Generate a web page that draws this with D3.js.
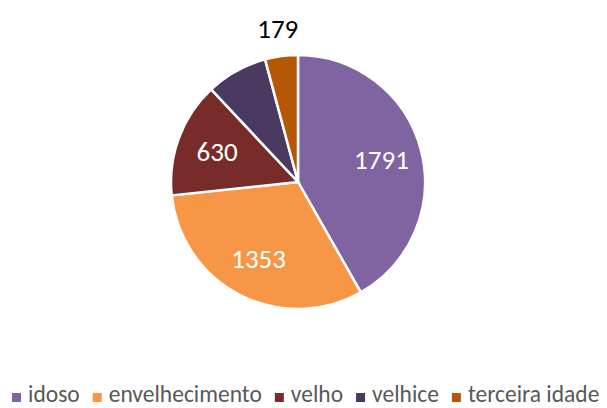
<!DOCTYPE html>
<html>
<head>
<meta charset="utf-8">
<script src="https://cdn.jsdelivr.net/npm/d3@7"></script>
<style>
  body { margin: 0; background: #fff; }
  text { font-family: Carlito, "Open Sans", "Noto Sans", sans-serif; }
</style>
</head>
<body>
<svg id="chart" width="607" height="408"></svg>
<script>
var categories = ["idoso", "envelhecimento", "velho", "velhice", "terceira idade"];
var values = [1791, 1353, 630, 335, 179];
var showLabel = [true, true, true, false, true];
var colors = ["#8064A2", "#F79646", "#772C2A", "#4B3A5F", "#B65708"];

var svg = d3.select("#chart"),
  cx = 298, cy = 182, radius = 127;

var z = d3.scaleOrdinal().domain(categories).range(colors);

var pie = d3.pie().sort(null).value(function (d) { return d.value; });
var data = categories.map(function (c, i) {
  return { name: c, value: values[i], label: showLabel[i] };
});
var arcs = pie(data);

var arc = d3.arc().innerRadius(0).outerRadius(radius);
var labelArc = d3.arc().innerRadius(radius * 0.68).outerRadius(radius * 0.68);
var outerArc = d3.arc().innerRadius(radius * 1.22).outerRadius(radius * 1.22);

var g = svg.append("g")
  .attr("transform", "translate(" + cx + "," + cy + ")");

g.selectAll("path")
  .data(arcs)
  .enter()
  .append("path")
  .attr("d", arc)
  .style("fill", function (d) { return z(d.data.name); })
  .style("stroke", "#fff")
  .style("stroke-width", 2.5);

// labels: small slice goes outside
g.selectAll("text.lbl")
  .data(arcs.filter(function (d) { return d.data.label; }))
  .enter()
  .append("text")
  .attr("class", "lbl")
  .attr("transform", function (d) {
    var small = d.endAngle - d.startAngle < 0.3;
    var p = small ? outerArc.centroid(d) : labelArc.centroid(d);
    return "translate(" + p + ")";
  })
  .attr("text-anchor", "middle")
  .attr("dy", "0.35em")
  .style("font-size", "27px")
  .style("fill", function (d) {
    return d.endAngle - d.startAngle < 0.3 ? "#000" : "#fff";
  })
  .text(function (d) { return d.data.value; });

// legend
var legend = svg.append("g").attr("transform", "translate(12,395)");
var xpos = 0;
categories.forEach(function (c) {
  var item = legend.append("g").attr("transform", "translate(" + xpos + ",0)");
  item.append("rect")
    .attr("x", 0).attr("y", -2)
    .attr("width", 9).attr("height", 9)
    .style("fill", z(c));
  var t = item.append("text")
    .attr("x", 16).attr("y", 7)
    .style("font-size", "23.5px")
    .style("fill", "#595959")
    .text(c);
  xpos += 16 + t.node().getComputedTextLength() + 13;
});
</script>
</body>
</html>
